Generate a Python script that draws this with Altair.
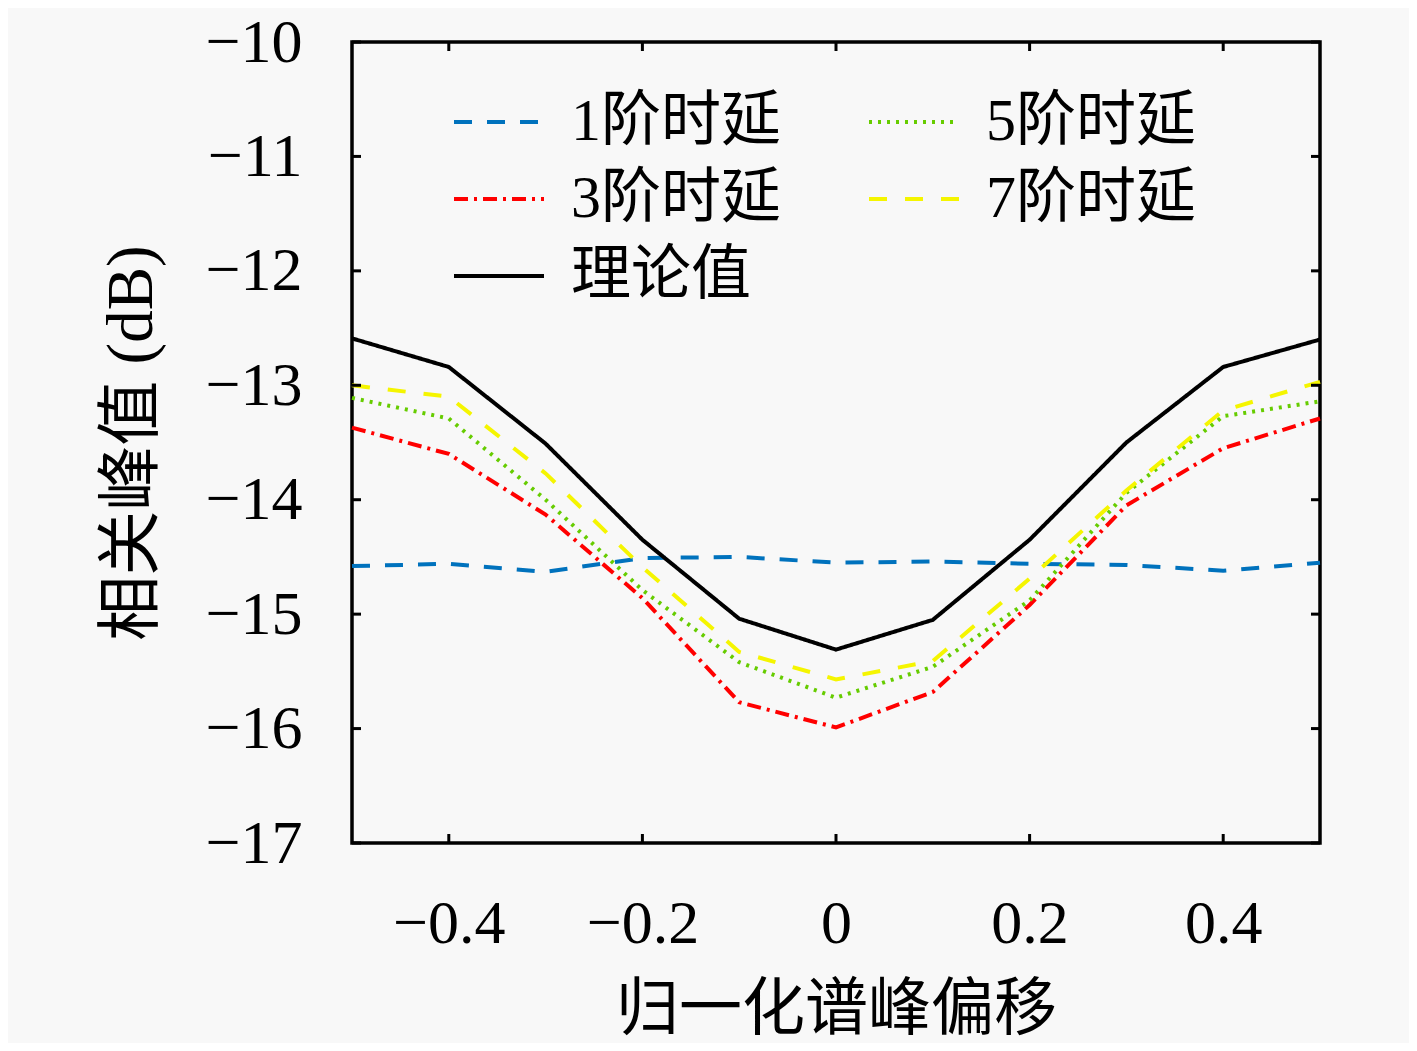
import altair as alt
import pandas as pd

x_vals = [-0.5, -0.4, -0.3, -0.2, -0.1, 0.0, 0.1, 0.2, 0.3, 0.4, 0.5]
order1 = [-14.58, -14.56, -14.63, -14.51, -14.50, -14.55, -14.54, -14.56, -14.57, -14.62, -14.55]
order3 = [-13.37, -13.60, -14.13, -14.86, -15.77, -15.99, -15.68, -14.92, -14.05, -13.55, -13.29]
order5 = [-13.11, -13.29, -14.00, -14.79, -15.42, -15.73, -15.46, -14.88, -13.94, -13.27, -13.14]
order7 = [-13.00, -13.10, -13.77, -14.59, -15.33, -15.57, -15.41, -14.69, -13.92, -13.22, -12.97]
theory = [-12.59, -12.84, -13.51, -14.35, -15.04, -15.31, -15.05, -14.35, -13.50, -12.84, -12.60]

series_names = ["1阶时延", "3阶时延", "理论值", "5阶时延", "7阶时延"]
series_vals = [order1, order3, theory, order5, order7]
series_colors = ["#0072BD", "#FF0000", "#000000", "#66CC00", "#F5F500"]
series_dash = [[18, 15], [14, 6, 3, 6], [1, 0], [3, 6], [18, 18]]

y_ticks = [-17, -16, -15, -14, -13, -12, -11, -10]
x_ticks = [-0.4, -0.2, 0, 0.2, 0.4]

rows = []
for name, vals in zip(series_names, series_vals):
    for xv, yv in zip(x_vals, vals):
        rows.append({"x": xv, "y": yv, "series": name})
df = pd.DataFrame(rows)

FONT = "Liberation Serif, Noto Sans CJK SC"
W, H = 968, 801

xscale = alt.Scale(domain=[-0.5, 0.5], nice=False, zero=False)
yscale = alt.Scale(domain=[-17, -10], nice=False, zero=False)

legend = alt.Legend(
    title=None, orient="none", legendX=100, legendY=33,
    direction="vertical", columns=2, symbolType="stroke",
    symbolSize=8100, symbolStrokeWidth=4, labelFontSize=60,
    labelFont=FONT, labelOffset=25, columnPadding=80, rowPadding=-4,
    labelColor="black", padding=0, labelLimit=500,
)

lines = alt.Chart(df).mark_line(strokeWidth=4).encode(
    x=alt.X("x:Q", scale=xscale, axis=alt.Axis(
        values=x_ticks, title="归一化谱峰偏移", titleFontSize=63, titleFont=FONT,
        titleFontWeight="normal", titlePadding=24, labelFontSize=62, labelFont=FONT,
        labelPadding=50, tickSize=0, grid=False, domain=False, labelColor="black",
        titleColor="black",
        labelExpr="datum.value == 0 ? '0' : format(datum.value, '.1f')")),
    y=alt.Y("y:Q", scale=yscale, axis=alt.Axis(
        values=y_ticks, title="相关峰值 (dB)", titleFontSize=65, titleFont=FONT,
        titleFontWeight="normal", titlePadding=40, labelFontSize=62, labelFont=FONT,
        labelPadding=50, tickSize=0, grid=False, domain=False, format="d",
        labelColor="black", titleColor="black")),
    color=alt.Color("series:N", scale=alt.Scale(domain=series_names, range=series_colors),
                    legend=legend),
    strokeDash=alt.StrokeDash("series:N", scale=alt.Scale(domain=series_names, range=series_dash),
                              legend=legend),
)

ytick_df = pd.DataFrame({"v": y_ticks})
xtick_df = pd.DataFrame({"v": x_ticks})

ytl = alt.Chart(ytick_df).mark_rule(color="black", strokeWidth=3).encode(
    y=alt.Y("v:Q", scale=yscale), x=alt.value(0), x2=alt.value(9))
ytr = alt.Chart(ytick_df).mark_rule(color="black", strokeWidth=3).encode(
    y=alt.Y("v:Q", scale=yscale), x=alt.value(W - 9), x2=alt.value(W))
xtb = alt.Chart(xtick_df).mark_rule(color="black", strokeWidth=3).encode(
    x=alt.X("v:Q", scale=xscale), y=alt.value(H - 9), y2=alt.value(H))
xtt = alt.Chart(xtick_df).mark_rule(color="black", strokeWidth=3).encode(
    x=alt.X("v:Q", scale=xscale), y=alt.value(0), y2=alt.value(9))

chart = alt.layer(lines, ytl, ytr, xtb, xtt).properties(
    width=W, height=H,
    autosize=alt.AutoSizeParams(type="none"),
    padding={"left": 344, "top": 34, "right": 89, "bottom": 200},
    background="#f8f8f8",
).configure_view(stroke="black", strokeWidth=3.5).resolve_scale(
    x="shared", y="shared")

chart.save("out.html", embed_options={"renderer": "svg", "actions": False})
